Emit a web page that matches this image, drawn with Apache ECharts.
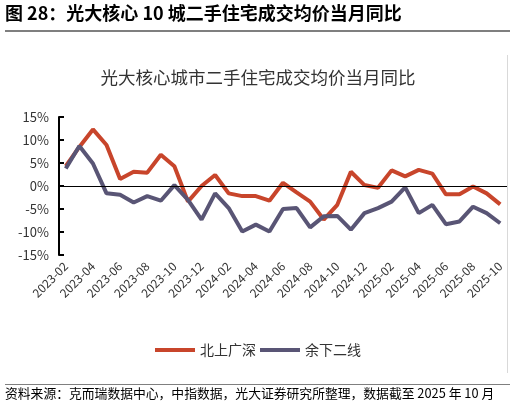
<!DOCTYPE html>
<html><head><meta charset="utf-8">
<script src="https://cdn.jsdelivr.net/npm/echarts@6/dist/echarts.min.js"></script>
<style>html,body{margin:0;padding:0;background:#fff}#c{width:516px;height:406px}</style>
</head><body><div id="c"></div>
<script>
const categories = ['2023-02','2023-03','2023-04','2023-05','2023-06','2023-07','2023-08','2023-09','2023-10','2023-11','2023-12',
 '2024-01','2024-02','2024-03','2024-04','2024-05','2024-06','2024-07','2024-08','2024-09','2024-10','2024-11','2024-12',
 '2025-01','2025-02','2025-03','2025-04','2025-05','2025-06','2025-07','2025-08','2025-09','2025-10'];
const tier1 = [4.3, 8.5, 12.3, 8.9, 1.5, 3.1, 2.9, 6.8, 4.3, -3.4, 0.0, 2.4, -1.6, -2.2, -2.2, -3.2, 0.7, -1.4, -3.4, -7.3, -4.1, 3.1, 0.2, -0.4, 3.4, 2.1, 3.5, 2.7, -1.8, -1.8, -0.1, -1.6, -4.0];
const tier2 = [3.8, 8.7, 4.9, -1.6, -1.9, -3.6, -2.2, -3.2, 0.2, -3.0, -7.3, -1.6, -4.8, -9.9, -8.4, -9.9, -5.0, -4.8, -9.0, -6.6, -6.5, -9.5, -5.9, -4.8, -3.4, -0.3, -5.9, -4.1, -8.3, -7.7, -4.5, -5.9, -8.1];
const seriesNames = ['北上广深', '余下二线'];
const yTicks = {min: -15, max: 15, interval: 5};

const FONT = '"Noto Sans CJK SC", "Noto Sans", sans-serif';
const chart = echarts.init(document.getElementById('c'));
chart.setOption({
  animation: false,
  textStyle: {fontFamily: FONT},
  title: {
    text: '光大核心城市二手住宅成交均价当月同比',
    left: 'center', top: 64,
    textStyle: {fontSize: 17.5, fontWeight: 'normal', color: '#333', fontFamily: FONT}
  },
  graphic: [
    {type: 'text', left: 5, top: 4, style: {text: '图 28：光大核心 10 城二手住宅成交均价当月同比', font: 'bold 18px ' + FONT, fill: '#000'}},
    {type: 'rect', shape: {x: 5, y: 30, width: 505, height: 2}, style: {fill: '#7f7f7f'}},
    {type: 'rect', shape: {x: 507, y: 55, width: 1, height: 318}, style: {fill: '#d9d9d9'}},
    {type: 'rect', shape: {x: 5, y: 384, width: 505, height: 1}, style: {fill: '#7f7f7f'}},
    {type: 'text', left: 5, top: 387, style: {text: '资料来源：克而瑞数据中心，中指数据，光大证券研究所整理，数据截至 2025 年 10 月', font: '12.8px ' + FONT, fill: '#000'}}
  ],
  legend: {
    data: seriesNames, left: 'center', top: 338,
    icon: 'rect', itemWidth: 40, itemHeight: 4, itemGap: 4,
    textStyle: {fontSize: 14, color: '#333', fontFamily: FONT}
  },
  grid: {left: 59, right: 9, top: 117, bottom: 151, containLabel: false},
  xAxis: {
    type: 'category', data: categories, boundaryGap: true,
    axisLine: {show: false}, axisTick: {show: false},
    axisLabel: {interval: 1, rotate: 45, fontSize: 12, color: '#333', margin: 9, fontFamily: FONT}
  },
  yAxis: {
    type: 'value', min: yTicks.min, max: yTicks.max, interval: yTicks.interval,
    splitLine: {show: false},
    axisLine: {show: true, lineStyle: {color: '#000', width: 2}},
    axisTick: {show: true, inside: true, length: 5, lineStyle: {color: '#000', width: 2}},
    axisLabel: {formatter: '{value}%', fontSize: 13, color: '#333', margin: 10, fontFamily: FONT}
  },
  series: [
    {name: seriesNames[0], type: 'line', data: tier1, symbol: 'none', smooth: false,
     lineStyle: {width: 4, color: '#C8452B'}, itemStyle: {color: '#C8452B'},
     markLine: {silent: true, symbol: 'none', label: {show: false}, lineStyle: {color: '#000', width: 1, type: 'solid'}, data: [{yAxis: 0}]}},
    {name: seriesNames[1], type: 'line', data: tier2, symbol: 'none', smooth: false,
     lineStyle: {width: 4, color: '#595575'}, itemStyle: {color: '#595575'}}
  ]
});
</script></body></html>
